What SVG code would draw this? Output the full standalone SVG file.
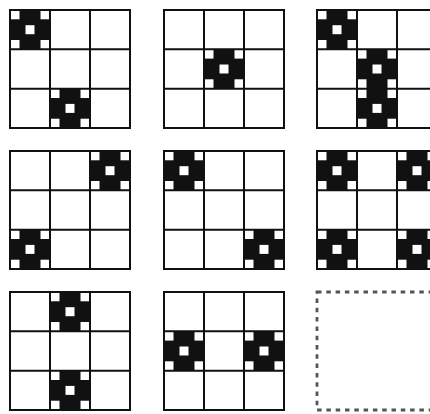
<svg xmlns="http://www.w3.org/2000/svg" xmlns:xlink="http://www.w3.org/1999/xlink" width="430" height="414" viewBox="0 0 430 414">
  <style>
    .grid { fill: none; stroke: #111; stroke-width: 2; }
    .blk { fill: #111; }
    .wht { fill: #fff; }
    .empty { fill: none; stroke: #555; stroke-width: 2.8; stroke-dasharray: 4.5 4.8; }
  </style>
  <defs>
    <g id="grid">
      <rect class="grid" x="0" y="0" width="120" height="118"/>
      <path class="grid" d="M40,0V118M80,0V118M0,39.3H120M0,78.7H120"/>
    </g>
    <g id="mark">
      <rect class="blk" x="9.5" y="0" width="21" height="39.3"/>
      <rect class="blk" x="0" y="9.3" width="40" height="20.7"/>
      <rect class="wht" x="15.5" y="15.2" width="9" height="9"/>
    </g>
  </defs>
  <rect width="430" height="414" fill="#fff"/>

  <g id="panel-1" transform="translate(10,10)">
    <use xlink:href="#mark" x="0" y="0"/>
    <use xlink:href="#mark" x="40" y="78.7"/>
    <use xlink:href="#grid"/>
  </g>
  <g id="panel-2" transform="translate(164,10)">
    <use xlink:href="#mark" x="40" y="39.3"/>
    <use xlink:href="#grid"/>
  </g>
  <g id="panel-3" transform="translate(317,10)">
    <use xlink:href="#mark" x="0" y="0"/>
    <use xlink:href="#mark" x="40" y="39.3"/>
    <use xlink:href="#mark" x="40" y="78.7"/>
    <use xlink:href="#grid"/>
  </g>

  <g id="panel-4" transform="translate(10,151)">
    <use xlink:href="#mark" x="80" y="0"/>
    <use xlink:href="#mark" x="0" y="78.7"/>
    <use xlink:href="#grid"/>
  </g>
  <g id="panel-5" transform="translate(164,151)">
    <use xlink:href="#mark" x="0" y="0"/>
    <use xlink:href="#mark" x="80" y="78.7"/>
    <use xlink:href="#grid"/>
  </g>
  <g id="panel-6" transform="translate(317,151)">
    <use xlink:href="#mark" x="0" y="0"/>
    <use xlink:href="#mark" x="80" y="0"/>
    <use xlink:href="#mark" x="0" y="78.7"/>
    <use xlink:href="#mark" x="80" y="78.7"/>
    <use xlink:href="#grid"/>
  </g>

  <g id="panel-7" transform="translate(10,292)">
    <use xlink:href="#mark" x="40" y="0"/>
    <use xlink:href="#mark" x="40" y="78.7"/>
    <use xlink:href="#grid"/>
  </g>
  <g id="panel-8" transform="translate(164,292)">
    <use xlink:href="#mark" x="0" y="39.3"/>
    <use xlink:href="#mark" x="80" y="39.3"/>
    <use xlink:href="#grid"/>
  </g>
  <g id="panel-9" transform="translate(317,292)">
    <rect class="empty" x="0" y="0" width="120" height="118"/>
  </g>
</svg>
